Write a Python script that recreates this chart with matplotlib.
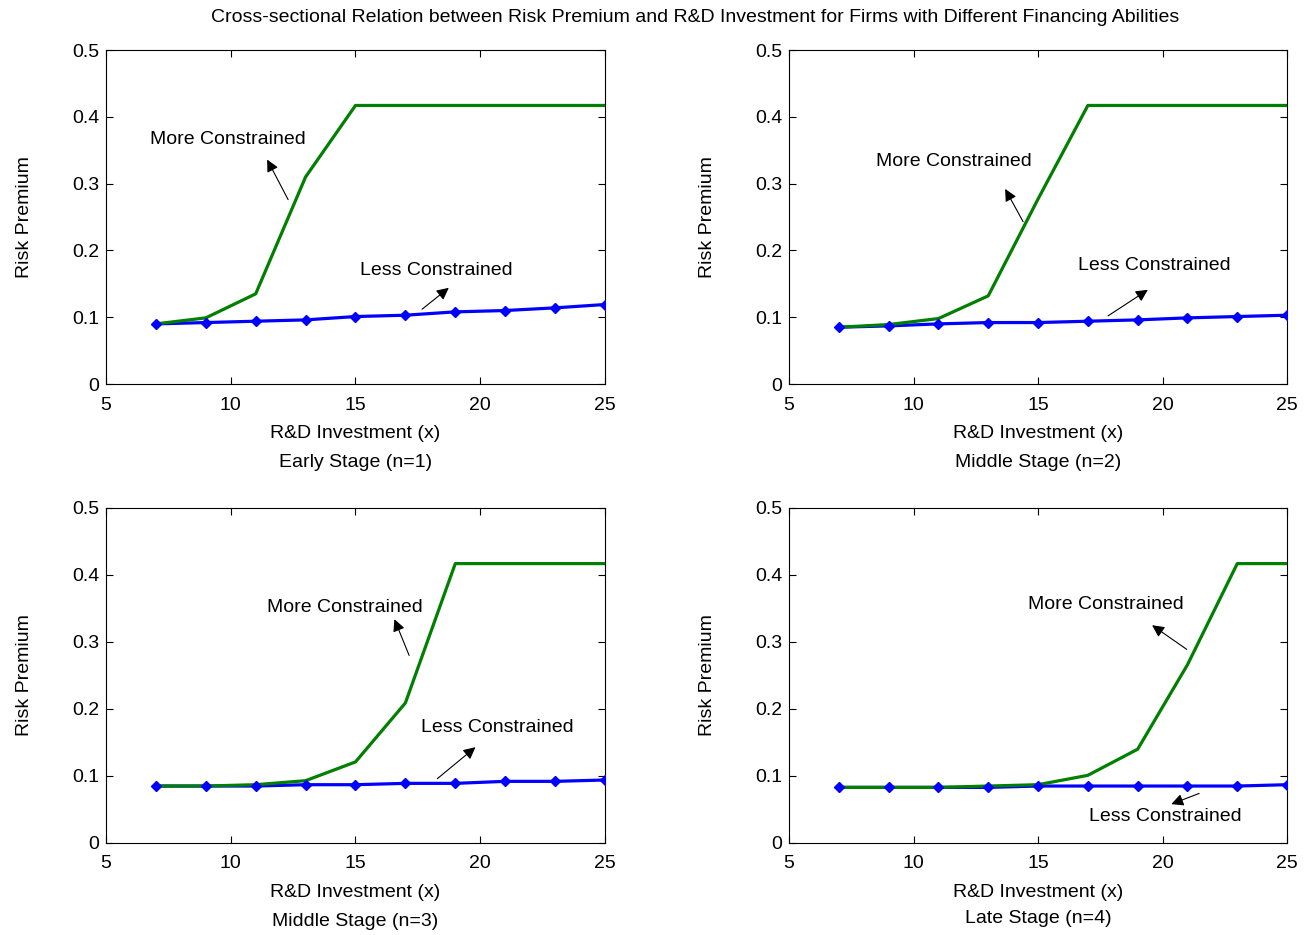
import matplotlib.pyplot as plt

plt.rcParams['font.family'] = ['Liberation Sans', 'DejaVu Sans']

# R&D investment grid (same for every stage)
x = [7, 9, 11, 13, 15, 17, 19, 21, 23, 25]

# risk premium, more constrained firms
more_n1 = [0.090, 0.099, 0.135, 0.310, 0.417, 0.417, 0.417, 0.417, 0.417, 0.417]
more_n2 = [0.085, 0.089, 0.098, 0.132, 0.277, 0.417, 0.417, 0.417, 0.417, 0.417]
more_n3 = [0.085, 0.085, 0.087, 0.093, 0.121, 0.209, 0.417, 0.417, 0.417, 0.417]
more_n4 = [0.083, 0.083, 0.083, 0.085, 0.087, 0.101, 0.140, 0.266, 0.417, 0.417]

# risk premium, less constrained firms
less_n1 = [0.090, 0.092, 0.094, 0.096, 0.101, 0.103, 0.108, 0.110, 0.114, 0.119]
less_n2 = [0.085, 0.087, 0.090, 0.092, 0.092, 0.094, 0.096, 0.099, 0.101, 0.103]
less_n3 = [0.085, 0.085, 0.085, 0.087, 0.087, 0.089, 0.089, 0.092, 0.092, 0.094]
less_n4 = [0.083, 0.083, 0.083, 0.083, 0.085, 0.085, 0.085, 0.085, 0.085, 0.087]

stages = ['Early Stage (n=1)', 'Middle Stage (n=2)', 'Middle Stage (n=3)', 'Late Stage (n=4)']

# label centre, arrow tail, arrow head (data coords)
more_notes = [((9.87, 0.366), (12.30, 0.276), (11.46, 0.336)),
              ((11.63, 0.333), (14.40, 0.243), (13.68, 0.292)),
              ((14.58, 0.352), (17.15, 0.280), (16.56, 0.334)),
              ((17.71, 0.356), (20.97, 0.289), (19.58, 0.325))]
less_notes = [((18.22, 0.170), (17.67, 0.112), (18.74, 0.144)),
              ((19.66, 0.177), (17.81, 0.102), (19.41, 0.141)),
              ((20.68, 0.172), (18.28, 0.096), (19.81, 0.143)),
              ((20.10, 0.039), (21.47, 0.074), (20.35, 0.058))]

more = [more_n1, more_n2, more_n3, more_n4]
less = [less_n1, less_n2, less_n3, less_n4]

fig = plt.figure(figsize=(13.12, 9.35), dpi=100)
fig.text(0.5297, 0.981,
         'Cross-sectional Relation between Risk Premium and R&D Investment for Firms with Different Financing Abilities',
         fontsize=14, ha='center', va='center')

# axes boxes [left, bottom, width, height] in figure fraction
boxes = [[0.0808, 0.5893, 0.3803, 0.3572],
         [0.6014, 0.5893, 0.3796, 0.3572],
         [0.0808, 0.0984, 0.3803, 0.3583],
         [0.6014, 0.0984, 0.3796, 0.3583]]
line_gap = [1.95, 1.95, 1.95, 1.75]

for i in range(4):
    ax = fig.add_axes(boxes[i])
    ax.plot(x, less[i], '-', color='#0000ff', lw=2.3, zorder=2)
    ax.plot(x, more[i], '-', color='#007f00', lw=2.3, zorder=3)
    ax.plot(x, less[i], 'D', color='#0000ff', ms=5, zorder=4, ls='none')

    ax.set_xlim(5, 25)
    ax.set_ylim(0, 0.5)
    ax.set_xticks([5, 10, 15, 20, 25])
    ax.set_yticks([0, 0.1, 0.2, 0.3, 0.4, 0.5])
    ax.set_yticklabels(['0', '0.1', '0.2', '0.3', '0.4', '0.5'])
    ax.tick_params(direction='in', top=True, right=True, length=5, width=0.8,
                   labelsize=14, pad=5)
    ax.tick_params(axis='x', pad=9)
    for s in ax.spines.values():
        s.set_linewidth(0.8)

    ax.set_xlabel('R&D Investment (x)\n' + stages[i], fontsize=14, linespacing=line_gap[i], labelpad=8)
    ax.set_ylabel('Risk Premium', fontsize=14, labelpad=28)

    for (txt, tail, head), label in [(more_notes[i], 'More Constrained'),
                                     (less_notes[i], 'Less Constrained')]:
        ax.text(txt[0], txt[1], label, fontsize=14, ha='center', va='center')
        ax.annotate('', xy=head, xytext=tail,
                    arrowprops=dict(arrowstyle='-|>', color='black', lw=0.8,
                                    mutation_scale=18, shrinkA=0, shrinkB=0))

fig.savefig('out.png', dpi=100)
